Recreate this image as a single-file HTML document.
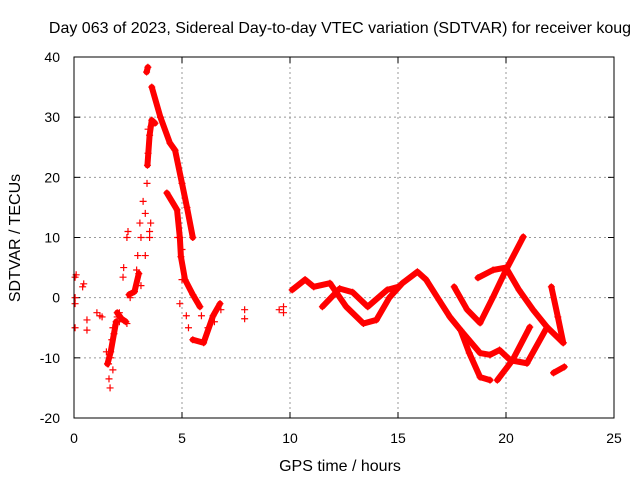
<!DOCTYPE html>
<html><head><meta charset="utf-8"><style>
body{margin:0;background:#fff}
svg{display:block;font-family:"Liberation Sans",sans-serif}
</style></head><body>
<svg id="chart" width="640" height="480" viewBox="0 0 640 480">
<text x="340" y="33" font-size="16" text-anchor="middle">Day 063 of 2023, Sidereal Day-to-day VTEC variation (SDTVAR) for receiver koug</text>
<text x="340" y="471" font-size="16" text-anchor="middle">GPS time / hours</text>
<text transform="translate(20,238) rotate(-90)" font-size="16" text-anchor="middle">SDTVAR / TECUs</text>
<g id="grid"></g><g id="ticks"></g><g id="marks"></g>
<rect x="74" y="57" width="540" height="361" fill="none" stroke="#000" stroke-width="1"/>
</svg>
<script>
const xTicks=[0,5,10,15,20,25];
const yTicks=[-20,-10,0,10,20,30,40];
// connected tracks: [hours, TECU]
const trackPeakA=[[3.6,35],[4.0,30],[4.44,25.7],[4.68,24.5],[5.0,19],[5.23,15],[5.5,10]];
const trackPeakTop=[[3.36,37.5],[3.42,38.3]];
const trackPeakB=[[4.3,17.4],[4.77,14.6],[4.9,10],[4.95,6.8],[5.14,3],[5.5,0.5],[5.83,-1.5]];
const trackValley=[[5.5,-7],[6.0,-7.5],[6.44,-3],[6.76,-1]];
const trackRiseL=[[1.55,-11],[1.7,-9],[1.85,-6],[1.95,-4]];
const trackClusterL=[[2.0,-2.5],[2.2,-3.5],[2.4,-4]];
const trackClusterM=[[2.55,0.5],[2.8,1],[3.0,4]];
const trackRiseM=[[3.4,22],[3.5,27],[3.6,29.5],[3.75,29]];
const trackMid=[[10.1,1.3],[10.7,3],[11.1,1.8],[11.85,2.4],[12.6,-1.5],[13.4,-4.3],[14,-3.7],[14.6,0],[15.2,2.4],[15.9,4.3],[16.3,3],[16.9,-0.4],[17.4,-3.2],[17.9,-5.4]];
const trackMid2=[[11.5,-1.5],[12.3,1.5],[12.9,0.9],[13.6,-1.5],[14.5,1.3],[15,1.8]];
const trackLow1=[[17.9,-5.4],[18.3,-9.2],[18.8,-13.2],[19.26,-13.7]];
const trackLow2=[[17.9,-5.4],[18.8,-9.2],[19.26,-9.5],[19.7,-8.7],[20.2,-10.4],[20.97,-10.9],[21.9,-4.9],[22.65,-7.5]];
const trackUp=[[17.6,1.8],[18.2,-2],[18.8,-4.2],[19.4,0.1],[20,4.6],[20.8,10.1]];
const trackArc=[[18.7,3.3],[19.4,4.6],[20.0,5],[20.6,1.3],[21.25,-2],[21.9,-4.9]];
const trackRise=[[19.6,-13.7],[20.3,-10.4],[21.1,-4.9]];
const trackEnd=[[22.1,1.8],[22.4,-3.2],[22.65,-7.5]];
const trackEnd2=[[22.2,-12.5],[22.7,-11.5]];
// scattered points
const scatter=[[0.05,3.4],[0.1,3.8],[0.05,0],[0.05,-1],[0.05,-5],[0.4,1.8],[0.45,2.3],[0.6,-3.7],[0.6,-5.4],[1.06,-2.5],[1.2,-3],[1.3,-3.2],[1.5,-9],[1.6,-11],[1.67,-15],[1.62,-13.5],[1.7,-10],[1.75,-7],[1.8,-5],[1.8,-12],[2.0,-3.2],[2.1,-2.5],[2.1,-4],[2.27,3.4],[2.3,5],[2.45,10],[2.5,11],[2.45,-4.3],[2.6,0],[2.9,4.6],[2.95,7],[3.05,12.4],[3.1,10],[3.2,16],[3.3,14],[3.38,19],[3.43,24],[3.43,28],[3.66,29],[3.5,10],[3.55,12.4],[3.3,7],[3.1,2],[3.5,11],[7.9,-2],[7.9,-3.5],[9.7,-1.5],[9.7,-2.5],[9.5,-2],[5.0,3],[5.2,-3],[5.3,-5],[4.9,-1],[5.0,8],[4.8,10],[5.9,-3],[6.2,-5],[6.5,-4],[6.8,-2]];
const X0=74,X1=614,Y0=418,Y1=57;
const sx=t=>X0+(t-0)/25*(X1-X0);
const sy=v=>Y0-(v+20)/60*(Y0-Y1);
const NS='http://www.w3.org/2000/svg';
const g=document.getElementById('grid'),tk=document.getElementById('ticks'),mk=document.getElementById('marks');
function el(n,a,p){const e=document.createElementNS(NS,n);for(const k in a)e.setAttribute(k,a[k]);p.appendChild(e);return e;}
xTicks.forEach(t=>{const x=sx(t);
 if(t>0&&t<25){const l=el('line',{x1:x,x2:x,y1:Y1,y2:Y0,stroke:'#999','stroke-dasharray':'2,3'},g);
 
 }
 el('line',{x1:x,x2:x,y1:Y0,y2:Y0-6,stroke:'#000'},tk);el('line',{x1:x,x2:x,y1:Y1,y2:Y1+6,stroke:'#000'},tk);
 const s=el('text',{x:x,y:443,'font-size':14,'text-anchor':'middle'},tk);s.textContent=t;
 
 });
yTicks.forEach(v=>{const y=sy(v);
 if(v>-20&&v<40){const l=el('line',{x1:X0,x2:X1,y1:y,y2:y,stroke:'#999','stroke-dasharray':'2,3'},g);
 
 }
 el('line',{x1:X0,x2:X0+6,y1:y,y2:y,stroke:'#000'},tk);el('line',{x1:X1,x2:X1-6,y1:y,y2:y,stroke:'#000'},tk);
 const s=el('text',{x:60,y:y+5,'font-size':14,'text-anchor':'end'},tk);s.textContent=v;
 
 });
function plus(t,v){const x=sx(t),y=sy(v);
 const p=el('path',{d:`M${x-3.5},${y}h7M${x},${y-3.5}v7`,stroke:'red','stroke-width':1.2,fill:'none'},mk);
 
 }
const tracks=[trackPeakA,trackPeakTop,trackPeakB,trackValley,trackRiseL,trackClusterL,trackClusterM,trackRiseM,trackMid,trackMid2,trackLow1,trackLow2,trackUp,trackArc,trackRise,trackEnd,trackEnd2];
tracks.forEach(tr=>{
 const pl=el('polyline',{points:tr.map(d=>sx(d[0])+','+sy(d[1])).join(' '),fill:'none',stroke:'red','stroke-width':6,'stroke-linejoin':'round','stroke-linecap':'round'},mk);
 
 
 tr.forEach(d=>plus(d[0],d[1]));});
scatter.forEach(d=>plus(d[0],d[1]));
</script>
</body></html>
